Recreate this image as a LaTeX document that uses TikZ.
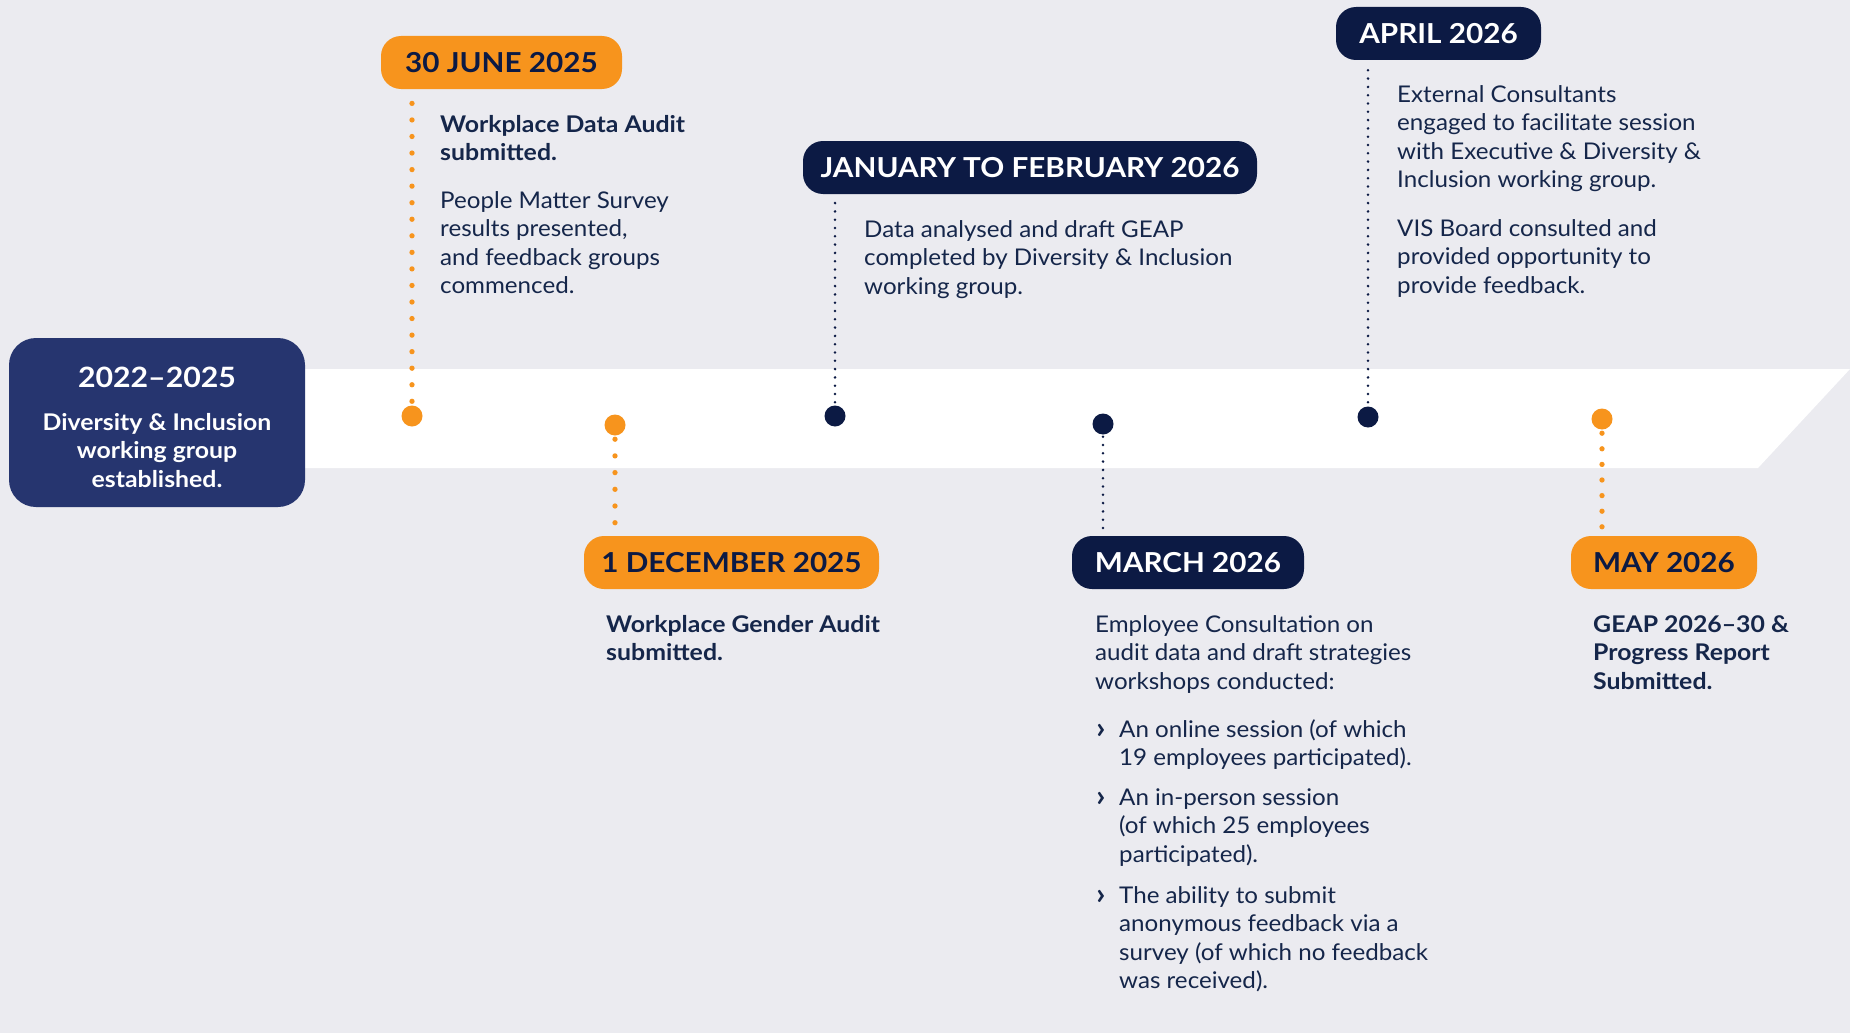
\documentclass[tikz,border=0pt]{standalone}
\usepackage{fontspec}
\setmainfont{Lato}[FakeStretch=1.05, BoldFeatures={FakeStretch=1.08}]
\definecolor{bg}{HTML}{EBEBF0}
\definecolor{navy}{HTML}{0C1A44}
\definecolor{ink}{HTML}{15264A}
\definecolor{tlorange}{HTML}{F7941D}
\definecolor{boxblue}{HTML}{26356F}
\newcommand\tlstrut{\rule{0pt}{20pt}}
\begin{document}
\begin{tikzpicture}[x=1pt,y=-1pt,
  body/.style={font=\fontsize{23}{28.5}\selectfont, text=ink, align=left, anchor=north west, inner sep=0pt},
  bodyb/.style={body, font=\fontsize{23}{28.5}\selectfont\bfseries},
  pill/.style={rounded corners=20pt, minimum height=53pt, inner sep=0pt, font=\fontsize{27.5}{32}\selectfont\bfseries},
  opill/.style={pill, fill=tlorange, text=navy},
  npill/.style={pill, fill=navy, text=white},
  odot/.style={circle, fill=tlorange, minimum size=21pt, inner sep=0pt},
  ndot/.style={circle, fill=navy, minimum size=21pt, inner sep=0pt},
  olink/.style={draw=tlorange, line width=5.3pt, line cap=round, dash pattern=on 0pt off 16.55pt},
  nlink/.style={draw=navy, line width=2.8pt, line cap=round, dash pattern=on 0pt off 8.3pt},
  chev/.style={anchor=base west, inner sep=0pt, text=ink, font=\fontsize{30}{30}\selectfont\bfseries}
]
\useasboundingbox (0,0) rectangle (1850,1033);
\fill[bg] (0,0) rectangle (1850,1033);
% timeline band
\fill[white] (240,369) -- (1850,369) -- (1758,468) -- (240,468) -- cycle;

% left box
\node[fill=boxblue, rounded corners=27pt, minimum width=296pt, minimum height=169pt, inner sep=0pt] (box) at (157,422.5) {};
\node[anchor=north, align=center, inner sep=0pt, text=white, font=\fontsize{23}{28.5}\selectfont\bfseries] (boxtext) at (157,365)
  {{\fontsize{28}{34}\selectfont\rule{0pt}{22pt}2022–2025}\\[14.5pt]
   Diversity \& Inclusion\\ working group\\ established.};

% pills
\node[opill, minimum width=241pt] (p1) at (501.5,62.5) {30 JUNE 2025};
\node[npill, minimum width=454pt] (p2) at (1030,167.5) {JANUARY TO FEBRUARY 2026};
\node[npill, minimum width=205pt] (p3) at (1438.5,33.5) {APRIL 2026};
\node[opill, minimum width=295pt] (p4) at (731.5,562.5) {1 DECEMBER 2025};
\node[npill, minimum width=232pt] (p5) at (1188,562.5) {MARCH 2026};
\node[opill, minimum width=186pt] (p6) at (1664,562.5) {MAY 2026};

% dots
\node[odot] (d1) at (412,416) {};
\node[odot] (d2) at (615,425) {};
\node[ndot] (d3) at (835,416) {};
\node[ndot] (d4) at (1103,424) {};
\node[ndot] (d5) at (1368,417) {};
\node[odot] (d6) at (1602,419) {};

% connectors
\draw[olink, shorten <=4pt, shorten >=13pt] (d1.north) -- (d1.north |- p1.south);
\draw[olink, dash pattern=on 0pt off 16.7pt, shorten <=3.5pt, shorten >=12.5pt] (d2.south) -- (d2.south |- p4.north);
\draw[nlink, shorten <=3pt, shorten >=7pt] (d3.north) -- (d3.north |- p2.south);
\draw[nlink, shorten <=2pt, shorten >=2pt] (d4.south) -- (d4.south |- p5.north);
\draw[nlink, shorten <=4pt, shorten >=5pt] (d5.north) -- (d5.north |- p3.south);
\draw[olink, dash pattern=on 0pt off 15.6pt, shorten <=3.5pt, shorten >=8.5pt] (d6.south) -- (d6.south |- p6.north);

% text blocks
\node[body] (ta) at (440,112) {\textbf{\tlstrut Workplace Data Audit}\\ \textbf{submitted.}\\[19pt]
  People Matter Survey\\ results presented,\\ and feedback groups\\ commenced.};
\node[body] (tb) at (864,217) {\tlstrut Data analysed and draft GEAP\\ completed by Diversity \& Inclusion\\ working group.};
\node[body] (tc) at (1397,82) {\tlstrut External Consultants\\ engaged to facilitate session\\ with Executive \& Diversity \&\\ Inclusion working group.\\[20pt]
  VIS Board consulted and\\ provided opportunity to\\ provide feedback.};
\node[bodyb] (td) at (606,612) {\tlstrut Workplace Gender Audit\\ submitted.};
\node[body] (te) at (1095,612) {\tlstrut Employee Consultation on\\ audit data and draft strategies\\ workshops conducted:};
\node[chev] (c1) at (1096,738) {›};
\node[body] (e1) at (1119,717) {\tlstrut An online session (of which\\ 19 employees participated).};
\node[chev] (c2) at (1096,806) {›};
\node[body] (e2) at (1119,785) {\tlstrut An in-person session\\ (of which 25 employees\\ participated).};
\node[chev] (c3) at (1096,904) {›};
\node[body] (e3) at (1119,883) {\tlstrut The ability to submit\\ anonymous feedback via a\\ survey (of which no feedback\\ was received).};
\node[bodyb] (tf) at (1593,612) {\tlstrut GEAP 2026–30 \&\\ Progress Report\\ Submitted.};
\end{tikzpicture}
\end{document}
